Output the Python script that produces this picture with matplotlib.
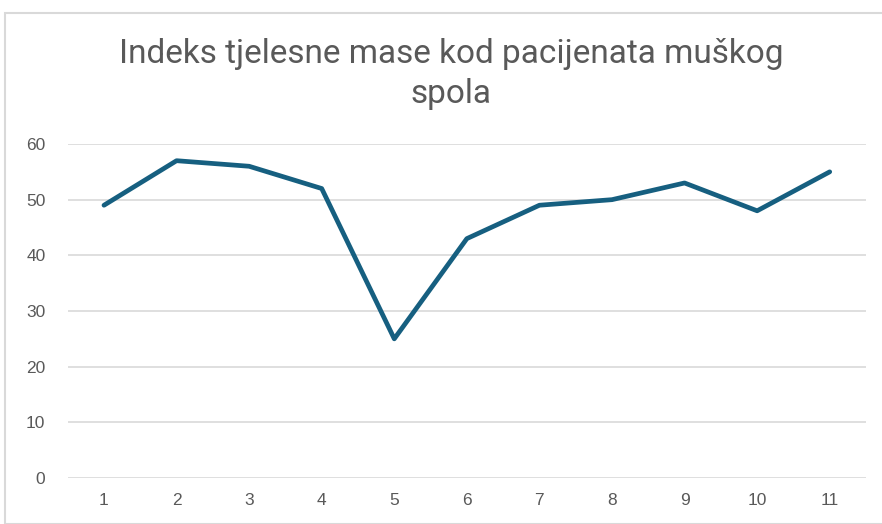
import matplotlib
matplotlib.use("Agg")
import matplotlib.pyplot as plt
from matplotlib.patches import Rectangle

# data
patients = [1, 2, 3, 4, 5, 6, 7, 8, 9, 10, 11]
bmi = [49, 57, 56, 52, 25, 43, 49, 50, 53, 48, 55]
yticks = [0, 10, 20, 30, 40, 50, 60]
title = "Indeks tjelesne mase kod pacijenata muškog\nspola"

W, H = 882, 524
fig = plt.figure(figsize=(W / 100, H / 100), dpi=100)
plt.rcParams['font.family'] = ['Liberation Sans', 'DejaVu Sans']

# chart frame
fig.patches.append(Rectangle((5 / W, 0), 1, 1 - 13 / H, transform=fig.transFigure,
                             fill=False, edgecolor='#d9d9d9', linewidth=1.5))

left, right = 67.7 / W, 866 / W
bottom, top = 1 - 478 / H, 1 - 144 / H
ax = fig.add_axes([left, bottom, right - left, top - bottom])

ax.plot(patients, bmi, color='#165f80', linewidth=3.4, solid_capstyle='round',
        solid_joinstyle='round', clip_on=False, zorder=3)

ax.set_xlim(0.5, 11.5)
ax.set_ylim(0, 60)
ax.set_yticks(yticks)
ax.set_xticks(patients)
ax.grid(axis='y', color='#d9d9d9', linewidth=1.2)
ax.set_axisbelow(True)
for s in ax.spines.values():
    s.set_visible(False)
ax.tick_params(length=0, labelsize=12.5, colors='#595959')
ax.tick_params(axis='y', pad=16)
ax.tick_params(axis='x', pad=11)

fig.text(451.5 / W, 1 - 74 / H, title, ha='center', va='center', fontsize=24,
         color='#595959', linespacing=1.3, family=['Roboto', 'DejaVu Sans'])

fig.savefig("out.png", dpi=100)
